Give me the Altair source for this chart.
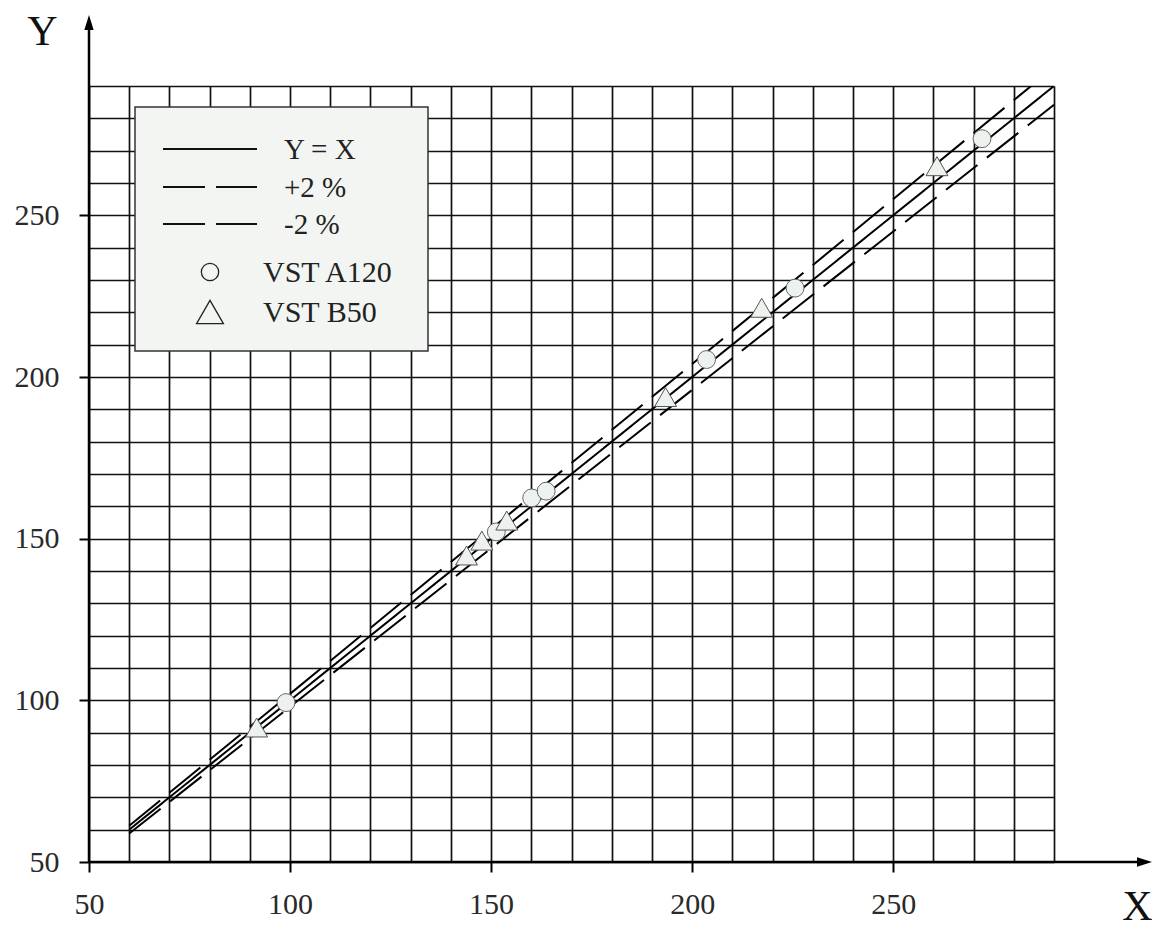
import altair as alt
import pandas as pd

# ---- data ----
a120_x = [99.0, 151.3, 160.1, 163.7, 203.6, 225.6, 272.1]
a120_y = [99.3, 152.1, 162.6, 164.7, 205.4, 227.5, 273.7]
b50_x = [91.7, 143.9, 147.7, 153.9, 193.4, 217.3, 260.9]
b50_y = [91.6, 144.8, 149.4, 155.6, 193.8, 221.4, 265.2]

line_x = [60, 290]
eq_y = [60, 290]
plus_y = [61.2, 295.8]
minus_y = [58.8, 284.2]

line_names = ["Y = X", "+2 %", "-2 %"]
point_names = ["VST A120", "VST B50"]
tick_values = list(range(50, 300, 10))
axis_names = ["X", "Y"]

W, H = 965, 776
FONT = "Liberation Serif"

lines_df = pd.DataFrame({
    "series": [line_names[0]] * 2 + [line_names[1]] * 2 + [line_names[2]] * 2,
    "x": line_x * 3,
    "y": eq_y + plus_y + minus_y,
})
a_df = pd.DataFrame({"x": a120_x, "y": a120_y, "series": point_names[0]})
b_df = pd.DataFrame({"x": b50_x, "y": b50_y, "series": point_names[1]})

xs = alt.Scale(domain=[50, 290], nice=False, zero=False)
ys = alt.Scale(domain=[50, 290], nice=False, zero=False)

is50 = "datum.value % 50 === 0"
common_axis = dict(
    values=tick_values, tickCount=60, grid=True, gridColor="#111", gridWidth=1.7, gridOpacity=1,
    domain=False, tickColor="#000", tickWidth=2, tickSize=10,
    tickOpacity={"condition": {"test": is50, "value": 1}, "value": 0},
    labelExpr=f"{is50} ? datum.label : ''", labelOverlap=False, labelFlush=False,
    labelFont=FONT, labelFontSize=30, labelColor="#2a2a2a",
    titleFont=FONT, titleFontSize=42, titleFontWeight="normal", titleColor="#111",
    titleAngle=0, titleAlign="center", titleBaseline="middle",
)
x_axis = alt.Axis(title=axis_names[0], labelPadding=17, titleX=1048, titleY=44, **common_axis)
y_axis = alt.Axis(title=axis_names[1], labelPadding=20, titleX=-47, titleY=-55, **common_axis)

lines = alt.Chart(lines_df).mark_line(clip=True, color="#000", strokeWidth=2).encode(
    x=alt.X("x:Q", scale=xs, axis=x_axis),
    y=alt.Y("y:Q", scale=ys, axis=y_axis),
    detail="series:N",
    strokeDash=alt.StrokeDash("series:N", scale=alt.Scale(domain=line_names, range=[[1, 0], [40, 12], [40, 12]]), legend=None),
)

circles = alt.Chart(a_df).mark_point(shape="circle", size=320, fill="#eef2ee", fillOpacity=1,
                                     stroke="#666", strokeWidth=1, opacity=1).encode(
    x=alt.X("x:Q", scale=xs), y=alt.Y("y:Q", scale=ys))
triangles = alt.Chart(b_df).mark_point(shape="triangle-up", size=480, fill="#eef2ee", fillOpacity=1,
                                       stroke="#555", strokeWidth=1, opacity=1).encode(
    x=alt.X("x:Q", scale=xs), y=alt.Y("y:Q", scale=ys))

one = alt.Data(values=[{}])

# axis arrows
x_arrow = alt.Chart(one).mark_rule(color="#000", strokeWidth=2.5).encode(
    x=alt.value(0), x2=alt.value(1057), y=alt.value(H))
y_arrow = alt.Chart(one).mark_rule(color="#000", strokeWidth=2.5).encode(
    x=alt.value(0), y=alt.value(H), y2=alt.value(-64))
x_head = alt.Chart(one).mark_point(shape="M1,0L-1,-0.62L-1,0.62Z", size=225, filled=True,
                                   color="#000", opacity=1).encode(x=alt.value(1055.5), y=alt.value(H))
y_head = alt.Chart(one).mark_point(shape="M0,-1L0.62,1L-0.62,1Z", size=225, filled=True,
                                   color="#000", opacity=1).encode(x=alt.value(0), y=alt.value(-63.5))

# legend box
leg_box = alt.Chart(one).mark_rect(fill="#f2f5f2", stroke="#333", strokeWidth=1.5).encode(
    x=alt.value(46), x2=alt.value(339), y=alt.value(21), y2=alt.value(265))

leg_layers = []
row_y = [63, 101, 138]
dashes = [[1, 0], [42, 11], [42, 11]]
for name, yy, dsh in zip(line_names, row_y, dashes):
    leg_layers.append(alt.Chart(one).mark_rule(color="#111", strokeWidth=2, strokeDash=dsh).encode(
        x=alt.value(74), x2=alt.value(168), y=alt.value(yy)))
    leg_layers.append(alt.Chart(alt.Data(values=[{"t": name}])).mark_text(
        align="left", baseline="middle", font=FONT, fontSize=29, color="#222").encode(
        text="t:N", x=alt.value(195), y=alt.value(yy + 1)))

sym_y = [186, 226]
sym_shapes = ["circle", "triangle-up"]
sym_sizes = [300, 720]
for name, yy, shp, sz in zip(point_names, sym_y, sym_shapes, sym_sizes):
    leg_layers.append(alt.Chart(one).mark_point(shape=shp, size=sz, fill="#f2f5f2", fillOpacity=1,
                                                stroke="#222", strokeWidth=1.3, opacity=1).encode(
        x=alt.value(121), y=alt.value(yy)))
    leg_layers.append(alt.Chart(alt.Data(values=[{"t": name}])).mark_text(
        align="left", baseline="middle", font=FONT, fontSize=30, color="#222").encode(
        text="t:N", x=alt.value(174), y=alt.value(yy + 1)))

chart = alt.layer(
    lines, circles, triangles, x_arrow, y_arrow, x_head, y_head, leg_box, *leg_layers
).properties(
    width=W, height=H,
    padding={"left": 81, "top": 78, "right": 98, "bottom": 68},
    autosize=alt.AutoSizeParams(type="none"),
    background="#ffffff",
).configure_view(strokeWidth=0)

chart.save("out.html", embed_options={"renderer": "svg", "actions": False})
